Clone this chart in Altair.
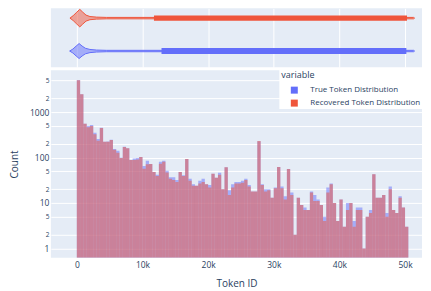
import altair as alt
import pandas as pd

# ---------------- data ----------------
series_names = ["True Token Distribution", "Recovered Token Distribution"]
series_colors = ["#636EFA", "#EF553B"]
bin_width = 500  # token ids per histogram bin

true_counts = [
    5050, 2480, 553, 493, 519, 351, 255, 452, 223, 225,
    245, 154, 141, 99, 172, 160, 88, 95, 98, 103,
    65, 85, 72, 48, 42, 81, 85, 51, 37, 37,
    32, 48, 41, 93, 34, 26, 24, 31, 34, 26,
    25, 44, 36, 46, 20, 61, 19, 26, 29, 29,
    31, 34, 25, 18, 18, 228, 26, 20, 20, 13,
    22, 62, 23, 14, 56, 17, 2, 13, 9, 8,
    7, 18, 15, 12, 9, 5, 22, 27, 10, 4,
    12, 3, 10, 10, 4, 8, 8, 1, 5, 7,
    43, 13, 13, 15, 6, 23, 7, 6, 14, 8,
    3,
]
recovered_counts = [
    5000, 2480, 553, 461, 493, 324, 234, 445, 223, 223,
    243, 149, 128, 98, 171, 160, 88, 88, 90, 103,
    57, 71, 72, 48, 39, 73, 81, 47, 34, 32,
    29, 48, 39, 93, 31, 24, 24, 27, 29, 26,
    22, 44, 36, 42, 20, 61, 15, 22, 27, 27,
    28, 32, 23, 18, 18, 232, 25, 18, 19, 13,
    21, 62, 21, 12, 56, 15, 2, 13, 9, 7,
    7, 17, 11, 11, 9, 4, 17, 26, 10, 4,
    12, 3, 7, 10, 3, 7, 7, 1, 5, 6,
    43, 13, 13, 15, 5, 20, 7, 6, 13, 8,
    3,
]

# marginal violin outlines: token id and half-width (px)
viol_true_x = [-1100, -600, -100, 350, 800, 1300, 2000, 3000, 4500, 51300, 51450]
viol_true_hw = [0.0, 2.0, 5.0, 7.5, 5.0, 2.8, 1.6, 1.0, 0.7, 0.7, 0.0]
viol_rec_x = [-1050, -550, 0, 450, 900, 1400, 2000, 3000, 4500, 51300, 51450]
viol_rec_hw = [0.0, 2.5, 6.0, 8.8, 6.0, 3.0, 1.6, 1.0, 0.7, 0.7, 0.0]
# dense band of the violins
band_start = [12900, 11750]
band_end = [50200, 50300]
band_hw = [3.0, 2.7]

x_ticks = [0, 10000, 20000, 30000, 40000, 50000]
y_ticks = [1, 2, 5, 10, 20, 50, 100, 200, 500, 1000, 2000, 5000]

# ---------------- layout constants ----------------
W = 372
H_MAIN = 188
H_MARG = 59
X_DOMAIN = [-3951, 52584]
Y_DOMAIN = [0.625, 8340]
LANE_CENTER = {series_names[0]: 16.2, series_names[1]: 49.2}
TEXT = "#2a3f5f"
BG = "#E5ECF6"
FONT = "Open Sans"

# ---------------- tables ----------------
bar_rows = []
for name, counts in zip(series_names, [true_counts, recovered_counts]):
    for i, c in enumerate(counts):
        bar_rows.append({"variable": name, "x0": i * bin_width,
                         "x1": (i + 1) * bin_width, "count": c})
bars = pd.DataFrame(bar_rows)

viol_rows = []
for name, xs, hws in [(series_names[0], viol_true_x, viol_true_hw),
                      (series_names[1], viol_rec_x, viol_rec_hw)]:
    c = LANE_CENTER[name]
    for x, hw in zip(xs, hws):
        viol_rows.append({"variable": name, "token": x, "hi": c + hw, "lo": c - hw})
viol = pd.DataFrame(viol_rows)

band = pd.DataFrame({
    "variable": series_names,
    "start": band_start,
    "end": band_end,
    "hi": [LANE_CENTER[n] + h for n, h in zip(series_names, band_hw)],
    "lo": [LANE_CENTER[n] - h for n, h in zip(series_names, band_hw)],
})

color_scale = alt.Scale(domain=series_names, range=series_colors)
x_scale = alt.Scale(domain=X_DOMAIN, nice=False, zero=False)

# ---------------- marginal violin ----------------
marg_x_axis = alt.Axis(labels=False, ticks=False, domain=False, grid=True,
                       gridColor="white", gridWidth=1, values=x_ticks, title=None)
marg_y = alt.Scale(domain=[0, H_MARG], nice=False, zero=False)

viol_layer = alt.Chart(viol).mark_area(
    fillOpacity=0.5, strokeWidth=1, strokeOpacity=1, interpolate="linear", clip=True
).encode(
    x=alt.X("token:Q", scale=x_scale, axis=marg_x_axis),
    y=alt.Y("hi:Q", scale=marg_y, axis=None, stack=None),
    y2="lo:Q",
    color=alt.Color("variable:N", scale=color_scale, legend=None),
    stroke=alt.Stroke("variable:N", scale=color_scale, legend=None),
)
band_layer = alt.Chart(band).mark_rect(clip=True).encode(
    x=alt.X("start:Q", scale=x_scale, axis=marg_x_axis),
    x2="end:Q",
    y=alt.Y("hi:Q", scale=marg_y, axis=None),
    y2="lo:Q",
    color=alt.Color("variable:N", scale=color_scale, legend=None),
)
marginal = alt.layer(viol_layer, band_layer).properties(width=W, height=H_MARG)

# ---------------- main histogram ----------------
major = "(datum.value == 1 || datum.value == 10 || datum.value == 100 || datum.value == 1000)"
y_axis = alt.Axis(
    values=y_ticks,
    labelExpr=f"{major} ? toString(datum.value) : substring(toString(datum.value), 0, 1)",
    labelFontSize={"condition": {"test": major, "value": 8.5}, "value": 6.5},
    grid=True, gridColor="white", gridWidth=1,
    domain=False, ticks=False, labelPadding=2,
    labelColor=TEXT, title="Count", titleFontSize=10, titleFontWeight="normal",
    titleColor=TEXT, titlePadding=10,
)
x_axis = alt.Axis(
    values=x_ticks,
    labelExpr="datum.value == 0 ? '0' : (datum.value / 1000) + 'k'",
    grid=False, domain=False, ticks=False, labelPadding=3,
    labelFontSize=8.5, labelColor=TEXT,
    title="Token ID", titleFontSize=10, titleFontWeight="normal",
    titleColor=TEXT, titlePadding=9,
)
y_scale = alt.Scale(type="log", domain=Y_DOMAIN, nice=False)

legend = alt.Legend(
    title="variable", orient="none", legendX=229, legendY=-1,
    fillColor="white", padding=2, symbolType="square", symbolSize=49,
    symbolOpacity=1, symbolStrokeWidth=0, symbolOffset=9, labelOffset=12,
    labelFontSize=8, labelColor=TEXT, titleFontSize=9, titleColor=TEXT,
    titleFontWeight="normal", titlePadding=6, rowPadding=5,
)


def hist_layer(name, with_legend):
    return alt.Chart(bars).transform_filter(
        alt.datum.variable == name
    ).mark_rect(opacity=0.5, clip=True).encode(
        x=alt.X("x0:Q", scale=x_scale, axis=x_axis),
        x2="x1:Q",
        y=alt.Y("count:Q", scale=y_scale, axis=y_axis),
        y2=alt.datum(Y_DOMAIN[0]),
        color=alt.Color("variable:N", scale=color_scale,
                        legend=legend if with_legend else None),
    )


main = alt.layer(
    hist_layer(series_names[0], True),
    hist_layer(series_names[1], False),
).properties(width=W, height=H_MAIN)

chart = alt.vconcat(marginal, main, spacing=2).resolve_legend(
    color="independent", stroke="independent"
).properties(
    padding={"left": 1, "top": 0, "right": 0, "bottom": 0},
    background="white",
).configure(
    font=FONT,
).configure_view(
    fill=BG, stroke=None,
)

chart.save("out.html", embed_options={"renderer": "svg", "actions": False})
